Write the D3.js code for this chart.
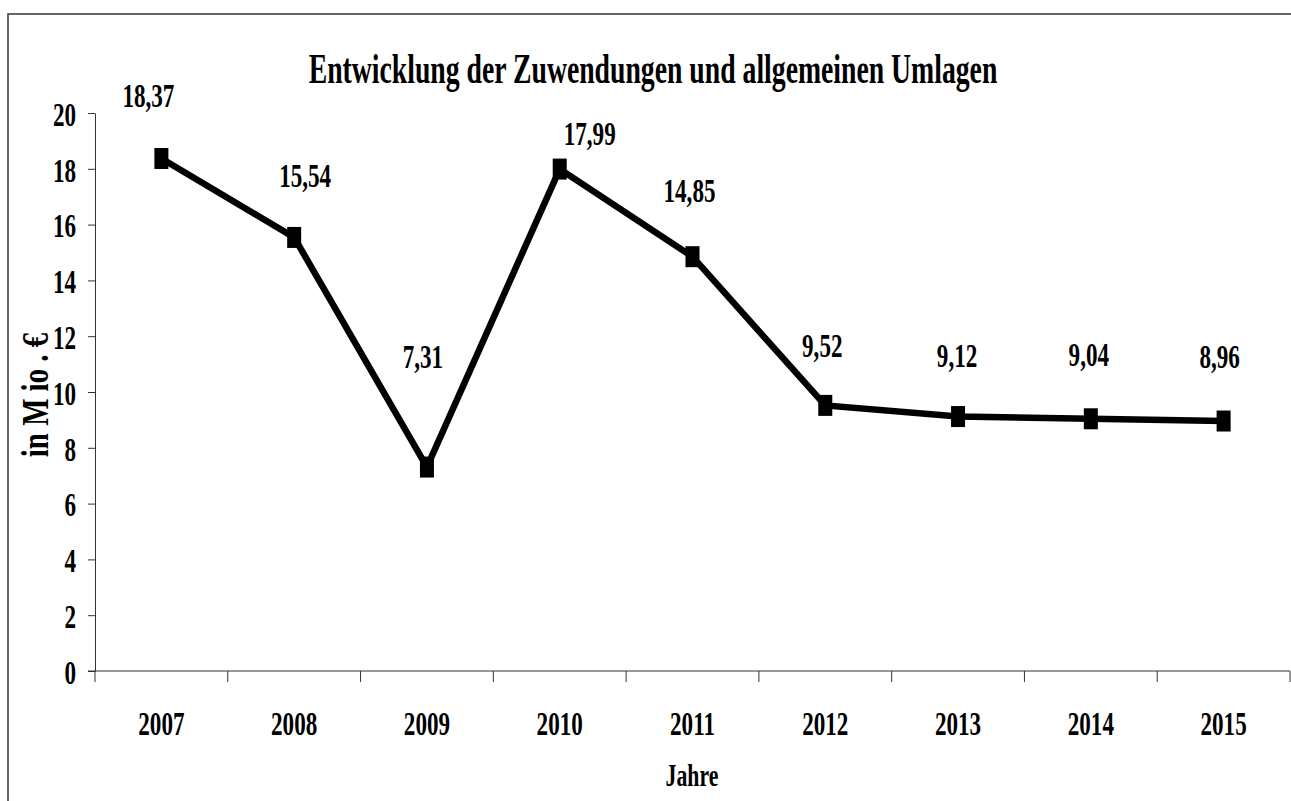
<!DOCTYPE html>
<html>
<head>
<meta charset="utf-8">
<script src="https://cdn.jsdelivr.net/npm/d3@7"></script>
<style>
  html, body { margin: 0; padding: 0; background: #fff; }
  svg { display: block; }
  text { font-family: "Liberation Serif", "Times New Roman", serif; font-weight: bold; fill: #000; }
</style>
</head>
<body>
<svg id="chart" width="1291" height="801"></svg>
<script>
// ---- data ----
const years = ["2007", "2008", "2009", "2010", "2011", "2012", "2013", "2014", "2015"];
const values = [18.37, 15.54, 7.31, 17.99, 14.85, 9.52, 9.12, 9.04, 8.96];
const valueLabels = ["18,37", "15,54", "7,31", "17,99", "14,85", "9,52", "9,12", "9,04", "8,96"];
const yTicks = [0, 2, 4, 6, 8, 10, 12, 14, 16, 18, 20];
const titleText = "Entwicklung der Zuwendungen und allgemeinen Umlagen";
const xTitle = "Jahre";
const yTitle = "in M io . €";

// ---- layout (label placement as in the original, relative to each marker) ----
const labelOffsets = [[-13, -51], [11, -50], [-4, -99], [30, -24], [-3, -55], [-3, -48], [-1, -50], [-2, -53], [-4, -53]];
const SX = 0.68; // horizontal condensation of the type

const svg = d3.select("#chart");

svg.append("rect")
  .attr("x", 8).attr("y", 14).attr("width", 1310).attr("height", 820)
  .attr("fill", "none").attr("stroke", "#333").attr("stroke-width", 1.5);

const x = d3.scaleBand().domain(years).range([95, 1290]);
const y = d3.scaleLinear().domain([0, 20]).range([671, 113]);

// y axis
const gy = svg.append("g").attr("transform", "translate(95,0)")
  .call(d3.axisLeft(y).tickValues(yTicks).tickSize(7).tickSizeOuter(0).tickFormat(d3.format("d")));
gy.attr("font-family", null);
gy.select(".domain").attr("stroke", "#333");
gy.selectAll(".tick line").attr("stroke", "#333");
gy.selectAll(".tick text")
  .attr("x", 0).attr("dy", "0.36em")
  .attr("transform", `translate(-19,0) scale(${SX},1)`)
  .style("font-size", "34px");

// x axis
const gx = svg.append("g").attr("transform", "translate(0,671)")
  .call(d3.axisBottom(x).tickSize(0).tickSizeOuter(0));
gx.attr("font-family", null);
gx.select(".domain").remove();
gx.selectAll(".tick text")
  .attr("y", 0).attr("dy", 0)
  .attr("transform", `translate(0,64) scale(${SX},1)`)
  .style("font-size", "34px");
svg.append("line").attr("x1", 88).attr("x2", x.range()[1]).attr("y1", 671).attr("y2", 671)
  .attr("stroke", "#333");
const boundaries = years.map(d => x(d)).concat([x.range()[1]]);
svg.append("g").selectAll("line").data(boundaries).join("line")
  .attr("x1", d => d).attr("x2", d => d).attr("y1", 671).attr("y2", 682)
  .attr("stroke", "#333");

// line
const pts = years.map((yr, i) => ({ yr, v: values[i], lab: valueLabels[i], off: labelOffsets[i] }));
const cx = d => x(d.yr) + x.bandwidth() / 2;
svg.append("path").datum(pts)
  .attr("d", d3.line().x(cx).y(d => y(d.v)))
  .attr("fill", "none").attr("stroke", "#000").attr("stroke-width", 6.5)
  .attr("stroke-linejoin", "miter");

svg.append("g").selectAll("rect").data(pts).join("rect")
  .attr("x", d => cx(d) - 7).attr("y", d => y(d.v) - 10.5)
  .attr("width", 14).attr("height", 21).attr("fill", "#000");

// value labels
svg.append("g").selectAll("text").data(pts).join("text")
  .attr("transform", d => `translate(${cx(d) + d.off[0]},${y(d.v) + d.off[1]}) scale(${SX},1)`)
  .attr("text-anchor", "middle").style("font-size", "34px")
  .text(d => d.lab);

// title
svg.append("text")
  .attr("transform", `translate(653,83) scale(0.66,1)`)
  .attr("text-anchor", "middle").style("font-size", "42px")
  .text(titleText);

// axis titles
svg.append("text")
  .attr("transform", `translate(692,786) scale(${SX},1)`)
  .attr("text-anchor", "middle").style("font-size", "32px")
  .text(xTitle);

svg.append("text")
  .attr("transform", `translate(48,395) rotate(-90) scale(0.76,1)`)
  .attr("text-anchor", "middle").style("font-size", "38px")
  .text(yTitle);
</script>
</body>
</html>
